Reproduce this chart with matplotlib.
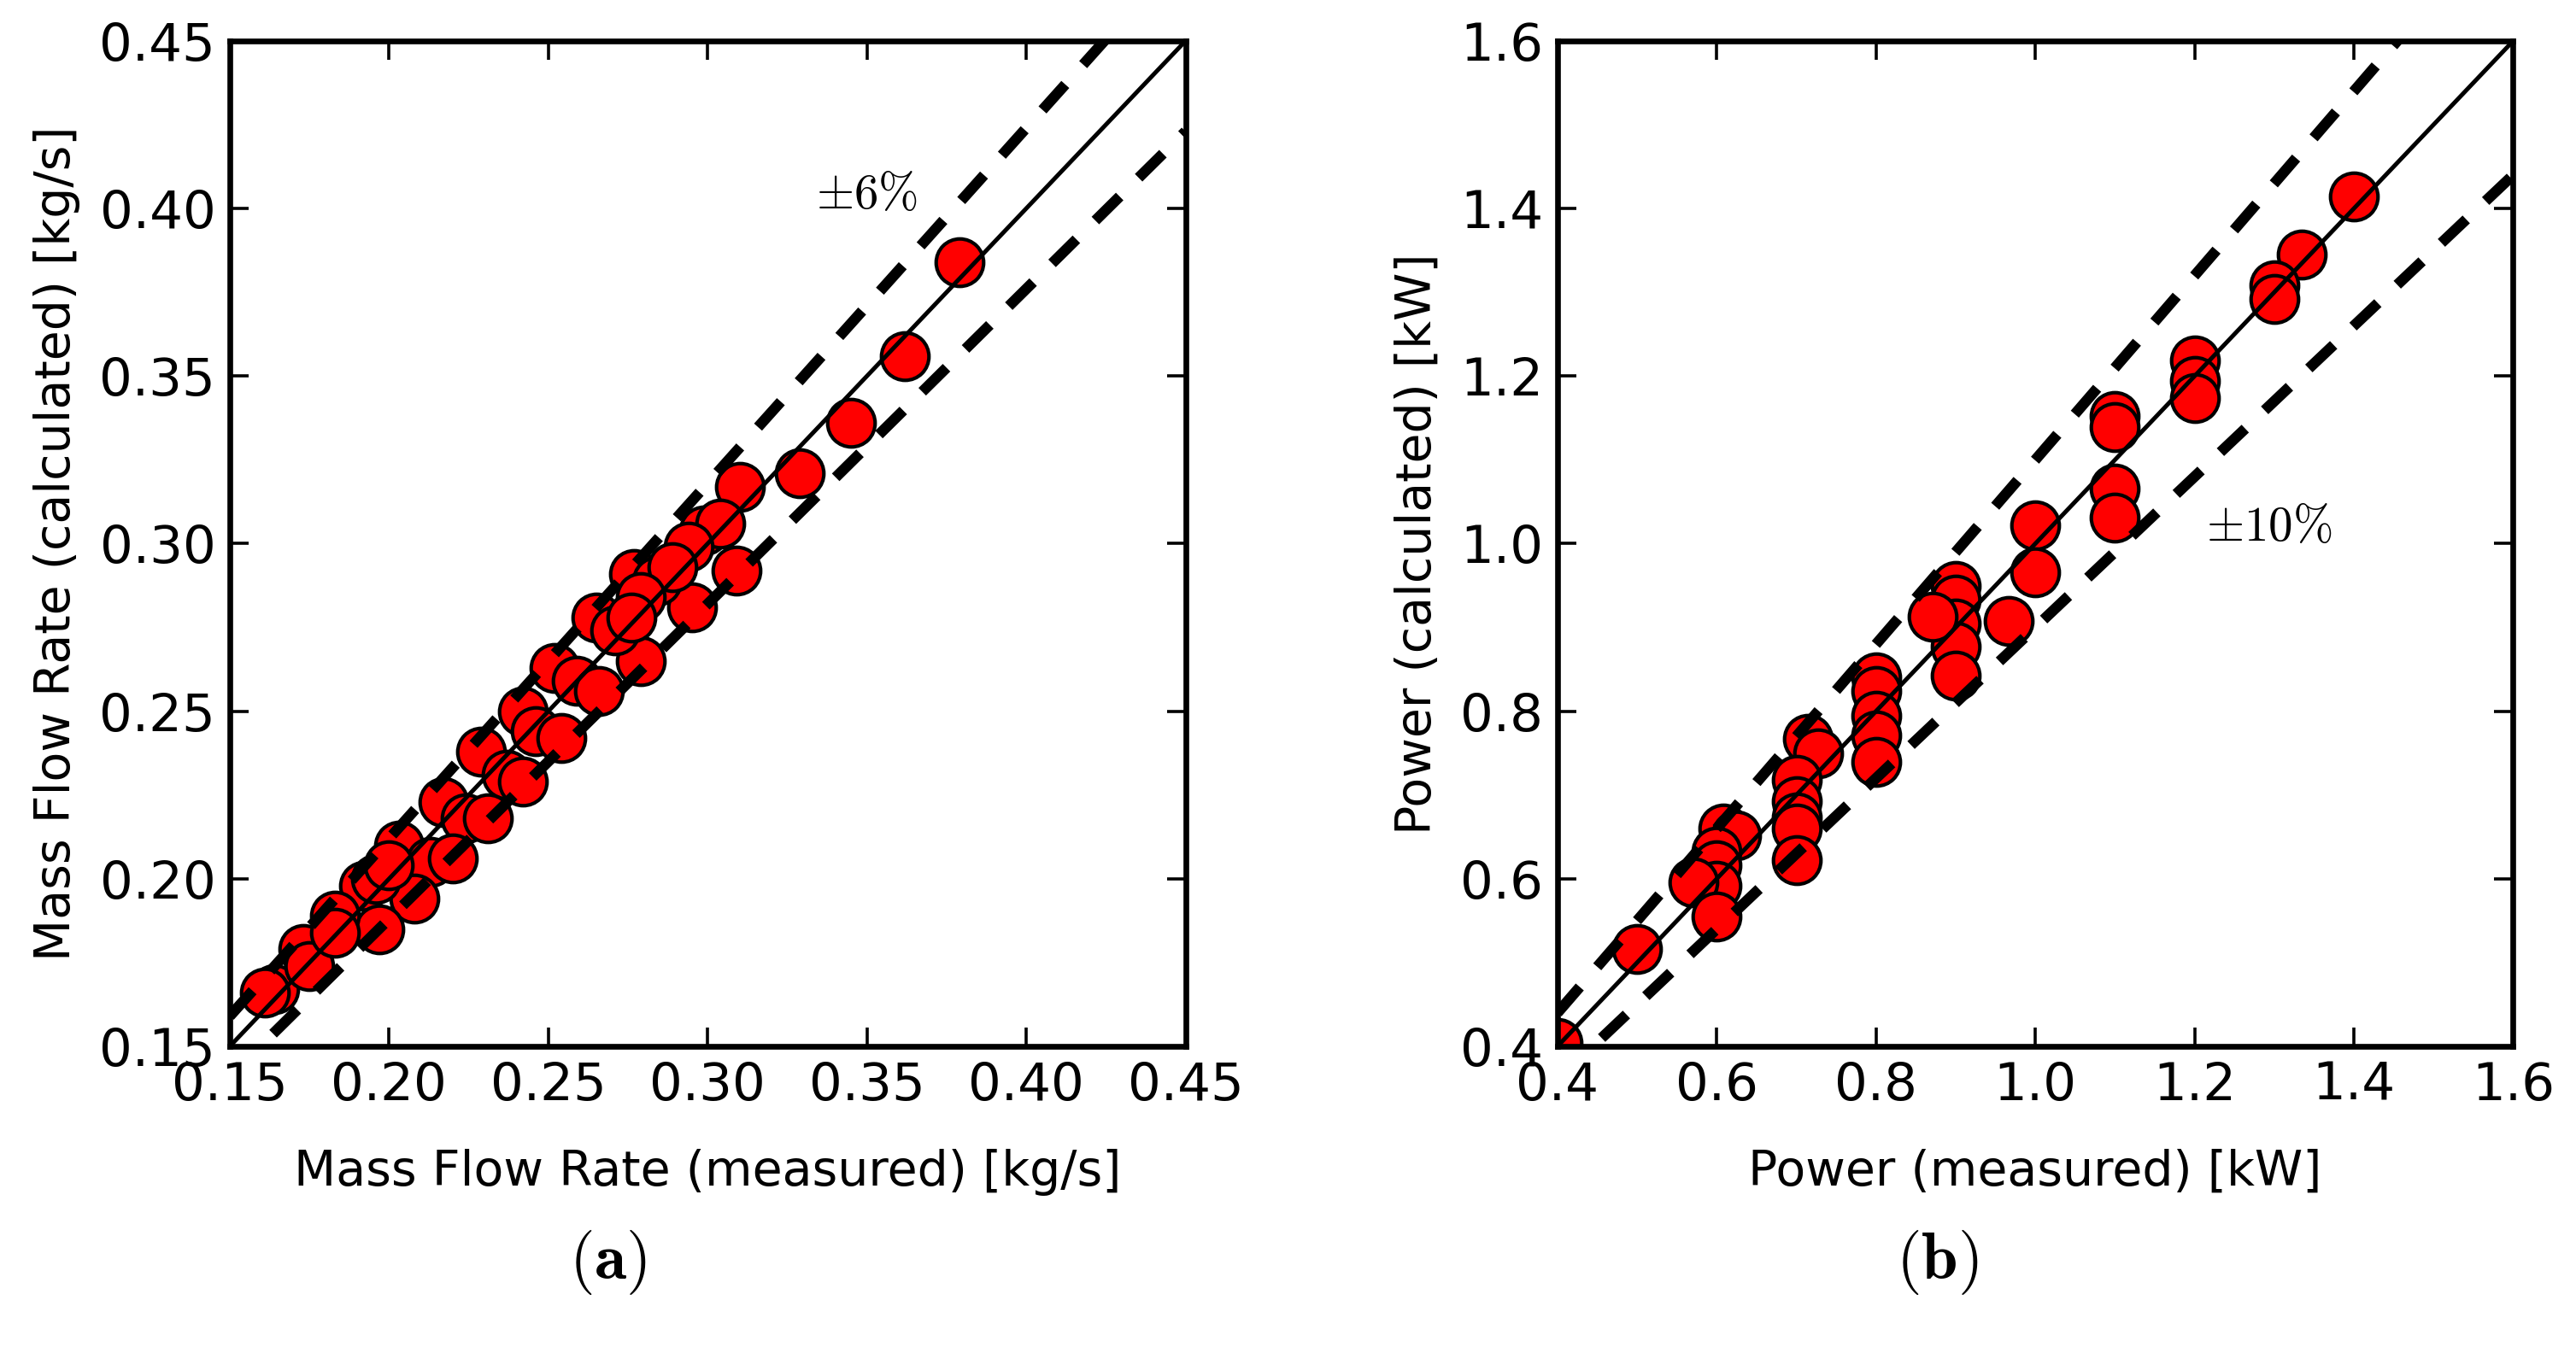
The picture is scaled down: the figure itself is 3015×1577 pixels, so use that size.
import numpy as np
import matplotlib.pyplot as plt

plt.rcParams['font.family'] = ['DejaVu Sans']
plt.rcParams['mathtext.fontset'] = 'cm'

# (a) mass flow rate [kg/s]
mfr_meas = [0.379, 0.362, 0.345, 0.329, 0.310, 0.309, 0.299, 0.304, 0.294, 0.295,
            0.277, 0.284, 0.289, 0.279, 0.279, 0.265, 0.271, 0.276, 0.252, 0.259,
            0.266, 0.242, 0.246, 0.254, 0.229, 0.237, 0.242, 0.217, 0.224, 0.231,
            0.203, 0.213, 0.220, 0.208, 0.192, 0.197, 0.183, 0.173, 0.164, 0.161,
            0.175, 0.183, 0.196, 0.200]
mfr_calc = [0.384, 0.356, 0.336, 0.321, 0.317, 0.292, 0.304, 0.306, 0.299, 0.281,
            0.291, 0.289, 0.293, 0.284, 0.265, 0.278, 0.274, 0.278, 0.263, 0.259,
            0.256, 0.250, 0.244, 0.242, 0.238, 0.231, 0.229, 0.223, 0.218, 0.218,
            0.210, 0.205, 0.206, 0.194, 0.198, 0.185, 0.189, 0.179, 0.167, 0.166,
            0.174, 0.184, 0.200, 0.204]

# (b) power [kW]
pow_meas = [1.40, 1.335, 1.30, 1.30, 1.20, 1.20, 1.20, 1.10, 1.10, 1.10,
            1.10, 1.00, 1.00, 0.967, 0.90, 0.90, 0.90, 0.90, 0.90, 0.871,
            0.80, 0.80, 0.80, 0.80, 0.80, 0.715, 0.727, 0.70, 0.70, 0.70,
            0.70, 0.70, 0.608, 0.624, 0.60, 0.60, 0.60, 0.571, 0.60, 0.50,
            0.40]
pow_calc = [1.414, 1.345, 1.308, 1.292, 1.219, 1.194, 1.174, 1.152, 1.139, 1.066,
            1.031, 1.022, 0.966, 0.908, 0.950, 0.933, 0.905, 0.877, 0.842, 0.913,
            0.840, 0.824, 0.795, 0.771, 0.740, 0.767, 0.750, 0.718, 0.693, 0.673,
            0.660, 0.622, 0.660, 0.652, 0.632, 0.616, 0.592, 0.596, 0.555, 0.516,
            0.404]

fig = plt.figure(figsize=(15.075, 7.885), dpi=200)
ax1 = fig.add_axes([0.0892, 0.2232, 0.371, 0.7464])
ax2 = fig.add_axes([0.6046, 0.2232, 0.371, 0.7464])


def panel(ax, xs, ys, lo, hi, tol, ticks, fmt, xlabel, ylabel):
    ax.plot(xs, ys, 'o', color='red', mec='black', mew=1.5, ms=20, zorder=2)
    line = np.array([lo, hi])
    ax.plot(line, line, color='black', lw=1.8, zorder=3)
    ax.plot(line, line * (1 + tol), color='black', lw=4.5,
            ls=(0, (3.2, 2.5)), zorder=3)
    ax.plot(line, line * (1 - tol), color='black', lw=4.5,
            ls=(0, (3.2, 2.5)), zorder=3)
    ax.set_xlim(lo, hi)
    ax.set_ylim(lo, hi)
    ax.set_xticks(ticks)
    ax.set_yticks(ticks)
    ax.set_xticklabels([fmt % t for t in ticks])
    ax.set_yticklabels([fmt % t for t in ticks])
    ax.tick_params(direction='in', top=True, right=True, length=8,
                   width=1.3, labelsize=22, pad=6)
    for s in ax.spines.values():
        s.set_linewidth(2.4)
    ax.set_xlabel(xlabel, fontsize=20.5, labelpad=16)
    ax.set_ylabel(ylabel, fontsize=20.5, labelpad=8)


panel(ax1, mfr_meas, mfr_calc, 0.15, 0.45, 0.06,
      [0.15, 0.20, 0.25, 0.30, 0.35, 0.40, 0.45], '%.2f',
      'Mass Flow Rate (measured) [kg/s]', 'Mass Flow Rate (calculated) [kg/s]')
panel(ax2, pow_meas, pow_calc, 0.4, 1.6, 0.10,
      [0.4, 0.6, 0.8, 1.0, 1.2, 1.4, 1.6], '%.1f',
      'Power (measured) [kW]', 'Power (calculated) [kW]')

ax1.text(0.35, 0.404, r'$\pm6\%$', fontsize=20.5, ha='center', va='center')
ax2.text(1.294, 1.019, r'$\pm10\%$', fontsize=20.5, ha='center', va='center')

fig.text(0.236, 0.063, r'$(\mathbf{a})$', fontsize=27.5, ha='center', va='center')
fig.text(0.752, 0.063, r'$(\mathbf{b})$', fontsize=27.5, ha='center', va='center')

fig.savefig('out.png', dpi=200)
